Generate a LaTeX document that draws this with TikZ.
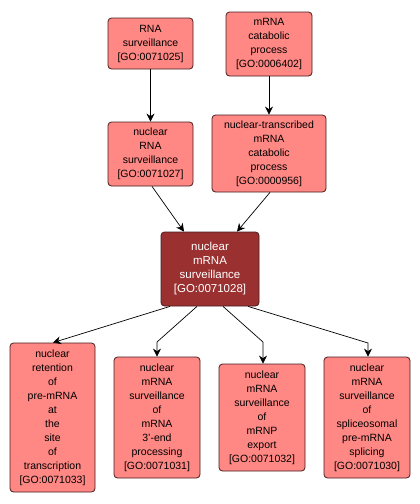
\documentclass[tikz,border=0pt]{standalone}
\usepackage{fontspec}
\setmainfont{Liberation Sans}
\usetikzlibrary{arrows.meta}
\definecolor{goterm}{RGB}{255,135,132}
\definecolor{goself}{RGB}{154,48,48}
\definecolor{goline}{RGB}{70,30,30}
\tikzset{
  term/.style={draw=goline, fill=goterm, rounded corners=3.5pt, align=center,
    inner sep=0pt, font=\fontsize{10.5}{14}\selectfont, line width=0.8pt},
  self/.style={term, fill=goself, text=white, font=\fontsize{11.5}{14}\selectfont},
  isa/.style={-{Stealth[length=8pt,width=8pt]}, line width=0.7pt}
}
\begin{document}
\begin{tikzpicture}[x=1pt,y=-1pt]
  \useasboundingbox (0,0) rectangle (420,504);
  % Parent terms
  \node[term, minimum width=85pt, minimum height=51pt] (rnasurv) at (150.5,43.5)
    {RNA\\surveillance\\{[GO:0071025]}};
  \node[term, minimum width=86pt, minimum height=64pt] (mrnacat) at (269,44)
    {mRNA\\catabolic\\process\\{[GO:0006402]}};
  \node[term, minimum width=85pt, minimum height=64pt] (nucrnasurv) at (150.5,154)
    {nuclear\\RNA\\surveillance\\{[GO:0071027]}};
  \node[term, minimum width=114pt, minimum height=77pt] (nuctrans) at (269,153.5)
    {nuclear-transcribed\\mRNA\\catabolic\\process\\{[GO:0000956]}};
  % Selected term
  \node[self, minimum width=98pt, minimum height=74pt] (nucmrnasurv) at (210,269)
    {nuclear\\mRNA\\surveillance\\{[GO:0071028]}};
  % Child terms
  \node[term, minimum width=85pt, minimum height=149pt] (retention) at (52.5,417.5)
    {nuclear\\retention\\of\\pre-mRNA\\at\\the\\site\\of\\transcription\\{[GO:0071033]}};
  \node[term, minimum width=86pt, minimum height=121pt] (threeend) at (157,417.5)
    {nuclear\\mRNA\\surveillance\\of\\mRNA\\3'-end\\processing\\{[GO:0071031]}};
  \node[term, minimum width=86pt, minimum height=107pt] (mrnp) at (262,417.5)
    {nuclear\\mRNA\\surveillance\\of\\mRNP\\export\\{[GO:0071032]}};
  \node[term, minimum width=86pt, minimum height=121pt] (splice) at (367,417.5)
    {nuclear\\mRNA\\surveillance\\of\\spliceosomal\\pre-mRNA\\splicing\\{[GO:0071030]}};
  % Bend points above the children
  \coordinate (b3) at (157,342);
  \coordinate (b4) at (263,342);
  \coordinate (b5) at (368,343);
  % Edges
  \draw[isa] (rnasurv) -- (nucrnasurv);
  \draw[isa] (mrnacat) -- (nuctrans);
  \draw[isa] ([xshift=1.5pt]nucrnasurv.south) -- ([xshift=-26pt]nucmrnasurv.north);
  \draw[isa] ([xshift=1pt]nuctrans.south) -- ([xshift=27pt]nucmrnasurv.north);
  \draw[isa] ([xshift=-40pt]nucmrnasurv.south) -- ([xshift=0.5pt]retention.north);
  \draw[isa] ([xshift=-13pt]nucmrnasurv.south) -- (b3) -- (threeend.north);
  \draw[isa] ([xshift=13pt]nucmrnasurv.south) -- (b4) -- ([xshift=1pt]mrnp.north);
  \draw[isa] ([xshift=38pt]nucmrnasurv.south) -- (b5) -- ([xshift=1pt]splice.north);
\end{tikzpicture}
\end{document}
